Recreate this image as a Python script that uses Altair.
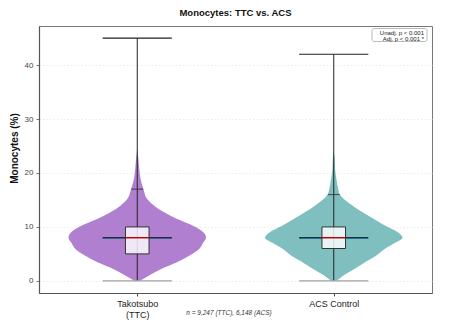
import altair as alt
import pandas as pd

FONT = "Liberation Sans"

# Groups and their positions on the categorical-as-numeric x axis
groups = ["TTC", "ACS"]
positions = [1, 2]
fill_colors = ["#b07fd0", "#80bfbf"]

# Violin profiles: value levels and relative density (1.0 = widest point)
ttc_levels = [0, 0.9, 2.2, 3.4, 4.6, 5.9, 7.1, 8.0, 9.0, 10.2, 11.4, 12.7, 13.9, 15.1, 17.0, 18.8, 20.7, 22.5, 24.5]
ttc_density = [0.04, 0.16, 0.35, 0.57, 0.75, 0.90, 0.96, 1.0, 0.96, 0.81, 0.59, 0.39, 0.25, 0.15, 0.09, 0.05, 0.03, 0.018, 0.0]
acs_levels = [0, 0.9, 2.2, 3.4, 4.6, 5.9, 7.1, 8.0, 9.0, 10.2, 11.4, 12.7, 13.9, 15.1, 16.0, 17.0, 18.8, 20.7, 22.5, 24.0]
acs_density = [0.04, 0.13, 0.30, 0.45, 0.61, 0.74, 0.90, 1.0, 0.93, 0.75, 0.59, 0.42, 0.28, 0.155, 0.09, 0.065, 0.04, 0.02, 0.015, 0.0]

# Summary statistics per group
medians = [8, 8]
q1 = [5, 6]
q3 = [10, 10]
whisker_hi = [17, 16]
mins = [0, 0]
maxes = [45, 42]

VIOLIN_HALF = 0.35
CAP_HALF = 0.176
BOX_HALF = 0.06
WCAP_HALF = 0.03

rows = []
for g, pos, lv, dens in [("TTC", 1, ttc_levels, ttc_density), ("ACS", 2, acs_levels, acs_density)]:
    for l, d in zip(lv, dens):
        rows.append({"group": g, "level": l,
                     "left": pos - VIOLIN_HALF * d, "right": pos + VIOLIN_HALF * d})
vdf = pd.DataFrame(rows)

sdf = pd.DataFrame({
    "group": groups, "pos": positions, "med": medians, "q1": q1, "q3": q3,
    "whi": whisker_hi, "mn": mins, "mx": maxes,
})
sdf["cap_l"] = sdf["pos"] - CAP_HALF
sdf["cap_r"] = sdf["pos"] + CAP_HALF
sdf["box_l"] = sdf["pos"] - BOX_HALF
sdf["box_r"] = sdf["pos"] + BOX_HALF
sdf["wc_l"] = sdf["pos"] - WCAP_HALF
sdf["wc_r"] = sdf["pos"] + WCAP_HALF

xscale = alt.Scale(domain=[0.5, 2.5], nice=False, zero=False)
yscale = alt.Scale(domain=[-2.25, 47.25], nice=False, zero=False)

xaxis = alt.Axis(
    values=[1, 2], title=None, grid=False,
    labelExpr="datum.value == 1 ? ['Takotsubo', '(TTC)'] : 'ACS Control'",
    labelFont=FONT, labelFontSize=9, labelColor="#222", labelPadding=3,
    tickSize=3, tickColor="#555", domainColor="#555", domainWidth=1.2,
)
yaxis = alt.Axis(
    values=[0, 10, 20, 30, 40], title="Monocytes (%)",
    titleFont=FONT, titleFontSize=10, titleFontWeight="bold", titleColor="#111",
    titlePadding=5, titleY=122,
    labelFont=FONT, labelFontSize=8, labelColor="#444", labelPadding=3,
    tickSize=3, tickColor="#777", domainColor="#555", domainWidth=1.2,
    grid=True, gridColor="#e6e6e6", gridDash=[1.5, 2], gridWidth=0.8,
)


def X(field):
    return alt.X(field, scale=xscale, axis=xaxis)


def Y(field):
    return alt.Y(field, scale=yscale, axis=yaxis)


violins = alt.Chart(vdf).mark_area(orient="horizontal", interpolate="monotone").encode(
    y=Y("level:Q"),
    x=X("left:Q"),
    x2="right:Q",
    color=alt.Color("group:N", scale=alt.Scale(domain=groups, range=fill_colors), legend=None),
    detail="group:N",
)

base = alt.Chart(sdf)

bars = base.mark_rule(color="#222", strokeWidth=1).encode(x=X("pos:Q"), y=Y("mn:Q"), y2="mx:Q")
cmax = base.mark_rule(color="#222", strokeWidth=1.1).encode(x=X("cap_l:Q"), x2="cap_r:Q", y=Y("mx:Q"))
cmin = base.mark_rule(color="#a0a0a0", strokeWidth=1.1).encode(x=X("cap_l:Q"), x2="cap_r:Q", y=Y("mn:Q"))
cmed_blue = base.mark_rule(color="#1f77b4", strokeWidth=1.0, yOffset=0.6).encode(
    x=X("cap_l:Q"), x2="cap_r:Q", y=Y("med:Q"))
cmed = base.mark_rule(color="#111", strokeWidth=1).encode(x=X("cap_l:Q"), x2="cap_r:Q", y=Y("med:Q"))
wcap = base.mark_rule(color="#333", strokeWidth=1.2, opacity=0.75).encode(
    x=X("wc_l:Q"), x2="wc_r:Q", y=Y("whi:Q"))
box = base.mark_rect(fill="white", fillOpacity=0.82, stroke="#333", strokeWidth=1).encode(
    x=X("box_l:Q"), x2="box_r:Q", y=Y("q1:Q"), y2="q3:Q")
median_line = base.mark_rule(color="#c00000", strokeWidth=1.4).encode(
    x=X("box_l:Q"), x2="box_r:Q", y=Y("med:Q"))

# p-value box in the upper right corner
pbox = alt.Chart(pd.DataFrame({"k": [0]})).mark_rect(
    fill="white", stroke="#aaaaaa", strokeWidth=0.8, cornerRadius=2
).encode(x=alt.value(333), x2=alt.value(388), y=alt.value(2.5), y2=alt.value(15.5))
ptext = alt.Chart(pd.DataFrame({"t": ["Unadj. p < 0.001", "Adj. p < 0.001 *"], "yy": [6.5, 12.5]})).mark_text(
    font=FONT, fontSize=6, align="right", baseline="middle", color="#222"
).encode(text="t:N", x=alt.value(385), y=alt.Y("yy:Q", scale=None))

# sample size note under the axis
ntext = alt.Chart(pd.DataFrame({"t": ["n = 9,247 (TTC), 6,148 (ACS)"]})).mark_text(
    font=FONT, fontSize=6.5, fontStyle="italic", align="center", baseline="middle", color="#333"
).encode(text="t:N", x=alt.value(190), y=alt.value(287))

chart = alt.layer(
    violins, bars, cmax, cmin, cmed_blue, cmed, box, median_line, wcap, pbox, ptext, ntext
).properties(
    width=393, height=267,
    title=alt.TitleParams("Monocytes: TTC vs. ACS", font=FONT, fontSize=9.5, fontWeight="bold",
                          color="#111", anchor="middle", offset=9),
    autosize=alt.AutoSizeParams(type="none"),
    padding={"left": 39, "top": 26, "right": 34, "bottom": 35},
).configure_view(stroke="#777", strokeWidth=1)

chart.save("out.html", embed_options={"renderer": "svg", "actions": False})
